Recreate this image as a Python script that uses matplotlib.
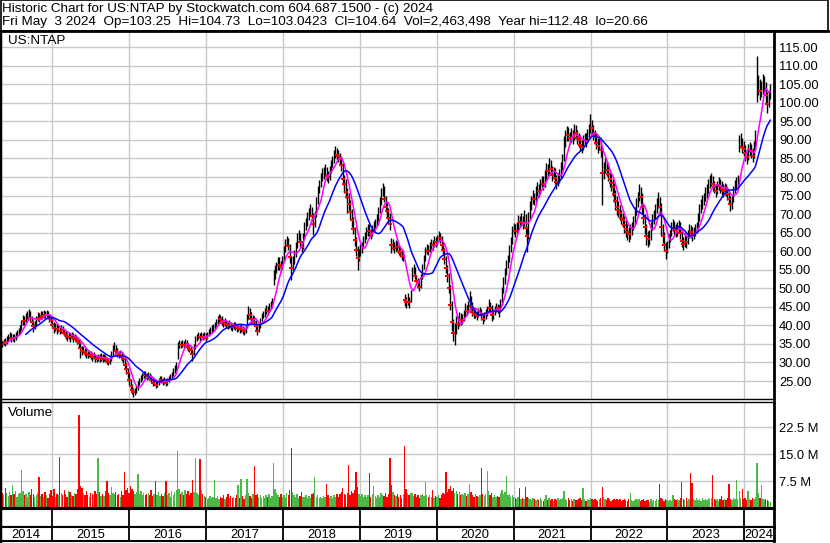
import numpy as np
import pandas as pd
import matplotlib
matplotlib.use("Agg")
import matplotlib.pyplot as plt
import matplotlib.dates as mdates
from matplotlib.lines import Line2D
from matplotlib.patches import Rectangle

W, H = 830, 543

# weekly bars, week ending Friday
week_end = pd.date_range("2014-04-25", periods=524, freq="W-FRI")

close = [
    34.6, 35.2, 34.9, 35.6, 35.4, 36.3, 36.8, 37.2, 36.5, 36.9,
    36.5, 37.3, 37.8, 38.4, 39.2, 40.6, 41.8, 41.2, 42.3, 42.9,
    43.4, 42.1, 41.0, 39.8, 40.6, 41.8, 42.6, 42.0, 43.1, 42.6,
    43.3, 42.8, 43.5, 42.7, 42.1, 41.5, 40.2, 39.2, 39.8, 38.9,
    39.4, 38.6, 39.3, 38.7, 38.0, 37.4, 36.8, 37.5, 36.9, 37.3,
    36.6, 37.0, 36.3, 35.8, 35.2, 33.8, 33.2, 33.6, 32.9, 32.4,
    32.1, 32.6, 31.9, 31.5, 32.0, 31.2, 30.9, 31.6, 31.2, 31.6,
    31.0, 31.5, 31.0, 30.5, 30.1, 30.8, 32.4, 33.8, 34.3, 33.2,
    32.6, 32.2, 32.4, 31.5, 30.9, 29.4, 28.3, 27.1, 25.2, 23.6,
    22.5, 22.0, 22.4, 23.0, 24.1, 25.0, 25.8, 26.2, 26.9, 26.6,
    26.1, 26.6, 26.0, 25.3, 24.5, 24.9, 24.0, 24.3, 24.9, 25.6,
    25.3, 24.8, 25.2, 24.5, 25.0, 25.6, 26.1, 26.6, 27.4, 28.5,
    29.0, 34.6, 35.1, 34.7, 35.2, 34.8, 35.3, 34.9, 34.2, 33.7,
    33.3, 32.2, 34.0, 36.3, 36.8, 37.3, 36.8, 37.5, 36.9, 37.2,
    36.7, 37.4, 38.0, 38.6, 39.0, 39.6, 40.1, 40.9, 41.4, 42.0,
    41.7, 41.2, 40.6, 41.0, 40.4, 40.0, 40.5, 39.9, 39.6, 40.1,
    39.7, 39.2, 39.6, 39.0, 39.4, 38.7, 38.4, 39.3, 42.0, 43.6,
    42.8, 41.6, 41.9, 41.0, 39.8, 38.6, 39.5, 41.2, 42.4, 43.1,
    43.6, 44.5, 44.0, 45.0, 45.6, 46.4, 53.6, 54.8, 55.6, 57.1,
    56.4, 55.7, 57.6, 60.4, 61.9, 63.0, 61.5, 58.4, 55.6, 57.2,
    59.1, 61.3, 63.7, 64.4, 62.5, 61.2, 63.8, 66.5, 67.6, 69.2,
    70.3, 71.5, 69.6, 67.4, 69.8, 73.4, 76.2, 77.9, 79.6, 80.8,
    81.4, 82.0, 80.4, 80.0, 81.6, 83.2, 84.4, 85.9, 86.8, 86.0,
    85.6, 84.8, 83.3, 79.6, 78.2, 76.0, 74.6, 72.8, 70.6, 68.5,
    66.0, 63.0, 60.4, 58.2, 59.3, 60.7, 61.0, 62.6, 63.8, 65.2,
    66.0, 65.4, 64.6, 65.8, 66.9, 67.3, 68.8, 70.5, 72.8, 75.6,
    76.9, 74.2, 72.0, 70.8, 69.0, 67.4, 61.6, 62.0, 60.8, 61.7,
    61.2, 60.1, 59.6, 58.8, 58.9, 46.9, 46.2, 47.4, 46.3, 48.5,
    54.2, 55.6, 53.4, 52.0, 51.5, 50.4, 52.6, 55.4, 57.8, 59.9,
    60.8, 60.1, 61.2, 62.0, 61.6, 62.9, 62.4, 63.3, 64.2, 63.6,
    61.8, 60.2, 58.0, 55.6, 53.4, 50.2, 45.5, 41.0, 38.0, 38.9,
    41.0, 40.4, 42.3, 41.4, 41.9, 43.0, 44.6, 44.0, 45.2, 47.5,
    45.2, 43.6, 43.0, 43.4, 42.6, 43.5, 43.9, 42.7, 41.8, 42.5,
    43.2, 44.0, 45.6, 44.8, 42.8, 43.3, 44.2, 45.0, 44.6, 44.2,
    46.1, 49.3, 51.8, 54.2, 56.4, 57.8, 60.4, 62.5, 65.3, 66.2,
    65.5, 66.6, 68.4, 67.8, 68.6, 67.5, 69.4, 66.2, 64.0, 69.4,
    72.0, 73.6, 74.8, 74.0, 76.2, 77.0, 76.3, 78.0, 78.9, 78.2,
    80.4, 82.0, 81.6, 83.4, 82.2, 80.5, 81.2, 79.8, 78.6, 79.7,
    80.6, 82.4, 84.5, 89.6, 90.8, 92.1, 91.3, 90.4, 91.5, 90.8,
    92.6, 91.8, 90.6, 89.9, 88.6, 88.2, 89.4, 90.3, 89.8, 91.2,
    92.4, 94.0, 93.2, 91.6, 90.8, 89.2, 88.3, 88.9, 87.2, 81.0,
    82.2, 83.3, 82.0, 80.8, 79.6, 78.3, 77.2, 75.4, 73.6, 72.0,
    71.0, 70.2, 69.0, 68.4, 67.0, 66.1, 65.2, 64.6, 65.5, 66.3,
    67.8, 70.2, 72.5, 74.3, 76.1, 74.6, 71.8, 69.0, 66.5, 64.0,
    63.2, 63.8, 66.2, 68.4, 69.3, 70.8, 72.4, 73.6, 72.0, 66.5,
    64.0, 61.8, 60.0, 61.4, 63.0, 64.4, 66.3, 67.2, 66.0, 65.6,
    66.4, 66.9, 65.0, 62.8, 62.0, 63.2, 62.5, 64.2, 66.0, 65.2,
    64.4, 65.0, 65.8, 66.6, 68.8, 71.0, 72.6, 73.5, 74.3, 75.6,
    76.6, 77.8, 78.9, 79.2, 78.0, 77.3, 76.2, 77.4, 78.4, 77.6,
    76.9, 76.2, 77.0, 76.6, 75.4, 74.2, 72.6, 73.5, 76.0, 77.8,
    78.4, 79.0, 89.0, 89.6, 88.2, 87.6, 86.4, 85.3, 86.8, 87.4,
    86.9, 85.6, 87.8, 90.8, 104.2, 104.8, 103.2, 103.9, 104.6, 105.2,
    102.0, 99.6, 101.6, 104.6,
]

high = [
    35.6, 36.1, 35.9, 36.4, 36.5, 37.2, 37.6, 38.1, 37.9, 37.7,
    37.6, 38.1, 38.7, 39.3, 40.1, 41.4, 42.9, 42.5, 43.3, 43.9,
    44.3, 43.9, 42.6, 41.5, 41.3, 42.6, 43.5, 43.3, 44.0, 43.8,
    44.1, 44.0, 44.2, 44.0, 43.1, 42.6, 41.8, 40.8, 40.7, 40.3,
    40.2, 39.9, 40.0, 39.8, 39.1, 38.4, 37.9, 38.3, 38.0, 38.1,
    38.0, 37.8, 37.5, 36.8, 36.3, 35.4, 34.4, 34.5, 34.0, 33.5,
    33.2, 33.4, 33.0, 32.5, 32.8, 32.3, 31.9, 32.4, 32.2, 32.5,
    32.2, 32.3, 32.1, 31.4, 31.0, 31.6, 33.2, 34.6, 35.4, 34.6,
    33.8, 33.2, 33.3, 32.7, 31.9, 31.2, 29.8, 28.6, 27.5, 25.5,
    24.2, 23.2, 23.2, 23.8, 24.9, 25.8, 26.6, 27.2, 27.7, 27.6,
    27.2, 27.4, 27.2, 26.6, 25.8, 25.6, 25.4, 25.0, 25.8, 26.4,
    26.4, 25.9, 26.0, 25.6, 25.8, 26.4, 26.9, 27.5, 28.4, 29.4,
    30.0, 35.6, 36.0, 35.8, 36.1, 35.9, 36.2, 36.0, 35.2, 34.8,
    34.5, 33.6, 34.9, 37.2, 37.7, 38.2, 37.9, 38.3, 38.0, 38.1,
    37.9, 38.3, 38.9, 39.5, 40.0, 40.5, 41.0, 41.8, 42.4, 43.0,
    42.9, 42.4, 41.8, 41.9, 41.5, 41.1, 41.4, 41.0, 40.6, 41.0,
    40.9, 40.3, 40.5, 40.2, 40.3, 39.8, 39.5, 40.2, 43.0, 45.2,
    44.6, 43.6, 42.9, 42.6, 41.4, 40.3, 40.4, 42.1, 43.3, 44.0,
    44.6, 45.5, 45.3, 46.0, 46.7, 47.5, 55.0, 56.2, 57.0, 58.5,
    58.4, 57.4, 58.8, 61.5, 63.2, 64.2, 63.6, 62.0, 58.8, 58.6,
    60.3, 62.6, 64.9, 65.7, 64.9, 62.8, 65.0, 67.8, 69.0, 70.5,
    71.6, 72.8, 72.0, 70.2, 70.9, 74.6, 77.6, 79.2, 81.0, 82.4,
    82.8, 83.4, 82.6, 81.6, 83.0, 84.6, 85.8, 87.4, 88.4, 87.9,
    87.2, 86.6, 85.6, 83.8, 80.6, 79.4, 77.0, 75.6, 73.9, 71.5,
    69.2, 66.6, 63.8, 61.5, 60.6, 62.0, 62.5, 64.0, 65.2, 66.5,
    67.4, 67.2, 66.1, 67.0, 68.2, 68.6, 70.0, 72.0, 74.6, 77.0,
    78.4, 77.6, 75.0, 73.0, 71.7, 70.2, 63.5, 63.4, 62.6, 62.9,
    62.8, 61.6, 61.0, 60.2, 60.0, 48.4, 47.6, 48.6, 47.7, 49.6,
    55.8, 56.6, 55.8, 53.6, 52.9, 52.1, 53.8, 56.6, 59.1, 61.2,
    62.0, 61.8, 62.4, 63.2, 63.0, 64.1, 63.9, 64.5, 65.4, 65.0,
    64.2, 62.6, 60.8, 58.6, 56.2, 54.2, 50.8, 46.5, 41.8, 40.6,
    42.6, 42.4, 43.6, 43.4, 43.2, 44.2, 46.0, 45.6, 46.6, 49.3,
    48.0, 46.2, 44.4, 44.5, 44.0, 44.7, 45.0, 44.4, 43.3, 43.6,
    44.4, 45.3, 47.0, 46.4, 45.4, 44.5, 45.2, 46.1, 45.8, 45.4,
    47.2, 50.4, 53.0, 55.6, 57.6, 59.0, 61.6, 63.9, 66.8, 67.6,
    67.2, 68.0, 69.8, 69.6, 70.2, 69.6, 71.2, 70.0, 66.4, 70.6,
    73.4, 75.0, 76.4, 75.8, 77.6, 78.6, 78.0, 79.5, 80.4, 80.2,
    82.0, 83.8, 83.4, 85.2, 84.6, 83.0, 82.8, 82.4, 80.6, 81.2,
    82.2, 84.0, 86.2, 91.0, 92.6, 93.8, 93.6, 92.2, 93.2, 92.6,
    94.4, 94.0, 92.8, 91.8, 91.4, 90.0, 91.2, 92.0, 91.8, 93.0,
    94.2, 97.0, 95.4, 94.0, 92.8, 92.0, 90.6, 90.8, 90.2, 88.0,
    84.0, 85.2, 84.4, 83.2, 82.0, 81.0, 79.4, 78.4, 76.6, 75.0,
    73.4, 72.4, 71.2, 70.4, 69.4, 68.4, 67.4, 66.6, 67.4, 68.0,
    69.4, 72.0, 74.4, 76.0, 78.2, 77.4, 75.8, 72.6, 70.0, 67.4,
    65.4, 65.6, 67.8, 70.0, 71.2, 72.6, 74.4, 76.0, 74.6, 73.0,
    67.4, 65.2, 62.6, 62.8, 64.6, 65.8, 67.8, 68.8, 68.2, 67.2,
    67.8, 68.4, 68.0, 65.8, 63.8, 64.8, 64.4, 65.6, 67.4, 67.0,
    66.4, 66.6, 67.2, 68.0, 70.4, 72.6, 74.2, 75.2, 75.8, 77.2,
    78.2, 79.4, 80.6, 81.0, 80.4, 79.0, 78.2, 78.8, 80.0, 79.6,
    79.0, 78.2, 78.4, 78.2, 77.4, 76.2, 74.8, 75.0, 77.6, 79.2,
    80.0, 80.6, 91.2, 91.8, 90.6, 89.8, 88.6, 87.4, 88.8, 89.4,
    89.0, 87.8, 89.6, 92.6, 112.5, 107.6, 106.4, 106.0, 107.8, 107.2,
    105.6, 102.8, 103.4, 105.2,
]

low = [
    33.3, 34.0, 34.1, 34.6, 34.5, 35.0, 35.8, 36.2, 35.6, 35.8,
    35.6, 36.1, 36.8, 37.3, 38.0, 38.8, 40.1, 40.2, 40.9, 41.8,
    42.1, 41.3, 40.0, 38.3, 39.1, 40.2, 41.3, 41.0, 41.6, 41.7,
    41.9, 41.9, 42.3, 41.8, 41.0, 40.6, 39.3, 38.0, 38.6, 37.8,
    38.2, 37.8, 38.0, 37.7, 37.1, 36.4, 35.7, 36.2, 35.6, 36.2,
    35.6, 36.0, 35.4, 34.9, 34.0, 31.3, 32.1, 32.5, 31.8, 31.3,
    31.2, 31.5, 30.8, 30.5, 30.9, 30.0, 30.0, 30.4, 30.2, 30.5,
    30.0, 30.3, 30.1, 29.6, 29.2, 29.6, 30.5, 32.0, 33.0, 32.2,
    31.6, 31.2, 31.4, 30.4, 29.8, 28.2, 27.0, 25.8, 24.0, 22.5,
    21.4, 20.7, 21.3, 21.9, 22.6, 23.8, 24.8, 25.2, 25.8, 25.6,
    25.2, 25.5, 25.2, 24.4, 23.7, 23.9, 23.1, 23.4, 23.8, 24.6,
    24.5, 23.9, 24.2, 23.6, 24.0, 24.6, 25.2, 25.6, 26.3, 27.2,
    27.9, 31.0, 34.0, 33.8, 34.2, 33.9, 34.3, 33.9, 33.2, 32.8,
    32.4, 30.4, 31.9, 33.6, 35.9, 36.4, 35.9, 36.5, 36.0, 36.2,
    35.8, 36.3, 37.1, 37.6, 38.0, 38.6, 39.0, 39.8, 40.4, 40.9,
    40.6, 40.2, 39.6, 39.9, 39.3, 38.9, 39.4, 38.8, 38.6, 39.0,
    38.7, 38.2, 38.4, 38.0, 38.3, 37.6, 37.3, 38.0, 39.2, 41.8,
    41.8, 40.5, 40.8, 39.9, 38.6, 37.5, 38.1, 39.2, 41.2, 42.0,
    42.2, 43.2, 42.8, 43.6, 44.5, 45.2, 50.8, 52.6, 54.2, 55.0,
    55.0, 54.4, 55.2, 57.2, 59.9, 61.4, 60.2, 56.8, 52.3, 54.8,
    56.6, 58.4, 60.8, 63.0, 61.2, 59.7, 60.6, 63.2, 65.8, 66.9,
    68.3, 69.8, 68.2, 64.5, 66.5, 69.2, 72.6, 75.6, 77.2, 78.9,
    79.6, 80.4, 79.0, 78.4, 79.2, 81.0, 82.6, 83.8, 85.2, 84.5,
    84.1, 83.2, 81.5, 77.8, 75.6, 74.4, 70.4, 71.0, 68.8, 66.6,
    64.6, 61.5, 58.7, 55.0, 57.4, 58.6, 59.6, 60.8, 62.2, 63.4,
    64.2, 64.0, 63.2, 64.0, 65.2, 65.8, 66.9, 68.2, 70.4, 72.5,
    75.0, 73.2, 70.6, 69.2, 67.4, 65.8, 59.6, 60.2, 59.4, 60.0,
    59.8, 58.9, 58.4, 57.6, 57.4, 45.2, 44.6, 45.5, 44.8, 46.2,
    52.0, 53.8, 52.4, 50.9, 50.2, 49.4, 50.2, 52.4, 55.1, 57.4,
    59.2, 58.9, 59.8, 60.6, 60.4, 61.2, 61.2, 61.8, 62.8, 62.2,
    60.6, 59.0, 56.6, 54.2, 51.8, 48.8, 44.2, 38.5, 35.8, 34.7,
    37.8, 38.9, 39.9, 40.2, 40.5, 41.2, 42.4, 42.9, 43.4, 44.8,
    44.2, 42.6, 41.9, 42.0, 41.5, 42.2, 42.8, 41.5, 40.4, 41.1,
    41.8, 42.6, 43.6, 43.4, 41.2, 41.8, 42.8, 43.6, 43.4, 42.2,
    43.6, 45.6, 48.8, 51.2, 53.5, 55.6, 57.2, 59.8, 62.0, 64.6,
    63.8, 64.8, 65.8, 66.4, 66.8, 66.0, 66.8, 64.6, 59.8, 63.2,
    68.8, 71.0, 72.8, 72.5, 73.2, 75.0, 74.6, 75.4, 77.2, 76.6,
    77.2, 79.6, 80.0, 80.8, 80.6, 79.0, 79.4, 78.2, 76.8, 77.6,
    78.4, 79.8, 81.8, 84.2, 88.2, 89.6, 89.6, 88.8, 89.4, 89.0,
    90.0, 90.2, 89.0, 88.2, 87.0, 86.4, 87.4, 88.4, 88.0, 89.2,
    90.4, 91.8, 91.6, 90.0, 89.0, 87.6, 86.6, 87.2, 85.4, 72.5,
    79.6, 81.0, 80.4, 78.8, 77.4, 76.2, 75.0, 73.2, 71.2, 69.8,
    69.2, 68.4, 67.2, 66.4, 65.0, 63.8, 63.0, 62.4, 63.2, 64.4,
    65.6, 67.2, 69.8, 72.0, 73.6, 72.6, 70.0, 67.2, 64.6, 61.6,
    61.2, 61.6, 63.0, 65.6, 67.4, 68.6, 70.4, 71.6, 70.0, 64.2,
    62.2, 60.0, 58.0, 59.4, 60.8, 62.6, 64.0, 65.4, 64.4, 63.8,
    64.2, 65.2, 63.4, 61.2, 60.4, 61.0, 60.8, 62.0, 63.6, 63.6,
    62.8, 63.2, 64.0, 65.0, 66.0, 68.2, 70.4, 71.4, 72.4, 73.6,
    74.4, 75.8, 77.0, 77.6, 76.2, 75.6, 74.6, 75.4, 76.4, 75.8,
    75.2, 74.6, 75.2, 75.0, 73.8, 72.6, 70.8, 71.4, 73.2, 75.6,
    76.6, 77.4, 86.8, 87.8, 86.6, 85.8, 84.2, 83.4, 84.6, 85.6,
    85.2, 84.0, 85.2, 87.4, 100.2, 102.2, 100.8, 101.6, 102.4, 103.0,
    99.8, 97.2, 98.8, 101.0,
]

# daily-scale volume, millions
volume = [
    7.0, 10.1, 4.2, 3.5, 5.6, 4.1, 3.3, 4.4, 3.6, 6.5,
    3.8, 4.6, 3.1, 3.9, 4.3, 10.7, 4.8, 3.5, 4.0, 3.2,
    4.5, 3.6, 5.2, 3.9, 3.1, 3.7, 4.2, 8.7, 3.4, 3.9,
    3.0, 4.4, 3.6, 2.9, 3.8, 4.9, 3.4, 5.3, 3.2, 4.0,
    3.7, 14.3, 4.1, 3.5, 5.0, 3.8, 3.2, 4.6, 4.4, 3.5,
    3.3, 4.2, 3.9, 5.4, 25.9, 6.2, 5.6, 4.1, 3.7, 4.8,
    3.6, 3.2, 4.3, 3.9, 3.5, 4.7, 3.8, 14.0, 4.5, 3.4,
    3.9, 3.3, 4.6, 7.5, 4.1, 3.6, 5.8, 4.2, 3.9, 4.4,
    3.5, 4.0, 3.2, 4.8, 3.6, 10.1, 4.9, 5.5, 4.3, 6.0,
    5.2, 4.6, 3.8, 4.4, 9.4, 3.9, 4.7, 3.5, 4.2, 3.6,
    3.8, 4.3, 3.5, 4.9, 3.4, 4.0, 7.5, 3.7, 4.5, 3.3,
    3.9, 3.4, 4.2, 7.5, 3.6, 4.1, 3.2, 4.8, 3.5, 4.4,
    5.1, 15.9, 5.2, 3.9, 4.4, 3.6, 5.0, 3.8, 4.6, 3.7,
    4.2, 7.8, 4.5, 14.0, 4.3, 3.6, 13.6, 4.9, 3.8, 3.4,
    3.0, 2.6, 2.8, 3.4, 2.7, 3.1, 7.7, 2.9, 3.3, 2.5,
    3.2, 2.8, 3.6, 2.6, 3.0, 4.0, 2.7, 3.4, 2.9, 3.1,
    2.8, 3.5, 6.5, 2.9, 8.2, 3.3, 2.6, 3.7, 8.2, 4.2,
    3.4, 2.9, 3.8, 11.6, 3.5, 4.0, 3.1, 3.6, 2.8, 3.3,
    2.9, 3.5, 3.0, 3.8, 2.7, 3.4, 12.4, 5.2, 4.1, 3.6,
    3.2, 3.9, 3.0, 3.5, 2.8, 4.2, 3.7, 5.1, 16.7, 4.4,
    3.6, 3.1, 3.9, 2.9, 3.4, 4.5, 3.2, 3.0, 3.6, 2.8,
    3.3, 2.9, 3.8, 4.2, 8.5, 3.1, 3.5, 2.8, 3.2, 2.7,
    3.4, 3.0, 6.7, 3.6, 2.9, 3.3, 2.8, 3.5, 3.1, 4.0,
    3.2, 3.8, 4.4, 5.6, 3.9, 3.5, 4.1, 12.0, 3.7, 4.6,
    4.2, 5.0, 10.0, 5.8, 3.9, 3.4, 4.0, 3.1, 3.6, 3.0,
    3.5, 9.7, 3.2, 3.8, 6.1, 3.3, 2.9, 3.6, 3.2, 4.1,
    3.7, 3.4, 4.2, 3.1, 3.9, 13.8, 6.3, 4.4, 3.6, 3.3,
    3.8, 3.2, 3.5, 2.9, 4.0, 17.2, 5.4, 4.1, 3.6, 4.3,
    4.3, 3.4, 3.9, 3.2, 3.6, 2.9, 3.7, 4.0, 3.3, 7.3,
    3.5, 3.0, 3.6, 3.2, 5.1, 2.8, 3.4, 3.1, 3.7, 2.9,
    3.6, 4.1, 3.8, 10.0, 4.5, 5.2, 6.0, 4.8, 5.5, 4.2,
    4.6, 3.9, 4.4, 3.5, 4.0, 3.6, 4.2, 3.3, 3.8, 6.8,
    4.5, 3.7, 3.2, 3.9, 3.4, 3.0, 3.6, 11.1, 3.8, 3.3,
    3.9, 10.4, 4.6, 3.5, 4.1, 3.2, 3.7, 3.0, 3.4, 3.1,
    4.3, 5.0, 3.8, 4.4, 9.0, 3.6, 3.9, 3.2, 3.5, 3.0,
    2.8, 2.5, 3.1, 5.6, 2.6, 2.9, 2.4, 5.9, 3.0, 2.7,
    2.5, 2.2, 2.8, 2.4, 2.1, 2.6, 2.3, 2.9, 2.2, 2.0,
    2.4, 3.6, 2.1, 2.7, 2.3, 2.6, 2.0, 2.5, 2.2, 2.8,
    2.3, 2.6, 2.9, 4.6, 2.5, 2.2, 2.7, 2.1, 2.4, 2.0,
    2.6, 2.3, 2.1, 2.5, 2.8, 2.2, 5.6, 2.4, 2.0, 2.6,
    2.2, 2.8, 2.4, 2.1, 2.6, 2.3, 2.0, 2.5, 2.9, 5.9,
    3.1, 2.4, 2.2, 2.7, 2.5, 2.0, 2.3, 2.6, 2.1, 2.4,
    2.2, 2.5, 2.0, 2.3, 2.6, 2.1, 1.9, 2.4, 4.1, 2.2,
    2.0, 2.3, 2.5, 2.1, 2.4, 1.9, 2.2, 2.6, 2.0, 2.3,
    2.1, 1.8, 2.4, 2.0, 2.2, 1.9, 2.5, 2.1, 6.8, 2.9,
    2.4, 2.0, 2.6, 2.2, 1.9, 2.3, 2.0, 3.6, 2.4, 2.1,
    2.5, 2.2, 2.8, 7.2, 2.6, 2.3, 2.9, 2.0, 2.4, 9.8,
    7.0, 2.5, 2.1, 2.7, 2.3, 2.6, 2.0, 2.8, 2.2, 2.5,
    2.3, 2.7, 2.4, 2.9, 9.3, 2.6, 2.2, 2.5, 2.0, 2.4,
    3.4, 2.1, 2.6, 2.3, 2.8, 6.7, 2.4, 2.2, 2.9, 2.5,
    7.8, 2.6, 4.6, 2.8, 5.3, 2.4, 2.9, 2.2, 4.8, 2.5,
    2.3, 2.7, 2.4, 3.2, 12.4, 4.1, 2.8, 6.5, 2.6, 2.2,
    2.5, 2.3, 1.9, 1.6,
]

year_labels = [str(y) for y in range(2014, 2025)]
price_ticks = list(range(25, 116, 5))
vol_ticks = [7.5, 15.0, 22.5]

header_1 = "Historic Chart for US:NTAP by Stockwatch.com 604.687.1500 - (c) 2024"
header_2 = ("Fri May  3 2024  Op=103.25  Hi=104.73  Lo=103.0423  Cl=104.64  "
            "Vol=2,463,498  Year hi=112.48  lo=20.66")

plt.rcParams["font.family"] = ["Liberation Sans", "DejaVu Sans"]
FS = 9.3
HEAD_FS = 9.7
GRID = "#c8c8c8"


def px_rect(x0, y0, x1, y1):
    return [x0 / W, 1 - y1 / H, (x1 - x0) / W, (y1 - y0) / H]


def fx(x):
    return x / W


def fy(y):
    return 1 - y / H


fig = plt.figure(figsize=(W / 100, H / 100), dpi=100)
fig.patch.set_facecolor("white")

dates = mdates.date2num(week_end.to_pydatetime())
c = np.array(close)
hi = np.array(high)
lo = np.array(low)
vol = np.array(volume)

xmin = mdates.date2num(pd.Timestamp("2014-04-28").to_pydatetime())
xmax = mdates.date2num(pd.Timestamp("2024-05-21").to_pydatetime())
year_starts = [mdates.date2num(pd.Timestamp(f"{y}-01-01").to_pydatetime())
               for y in range(2015, 2025)]

# moving averages (about 35 and 100 trading days)
ma_fast = pd.Series(c).rolling(7, min_periods=5).mean()
ma_slow = pd.Series(c).rolling(20, min_periods=19).mean()

chg = np.diff(c, prepend=c[0])
down = chg < 0


def frame(ax, top=1.0, bottom=1.0):
    for side in ["left", "right", "top", "bottom"]:
        ax.spines[side].set_color("black")
    ax.spines["left"].set_linewidth(2.5)
    ax.spines["right"].set_linewidth(2.0)
    ax.spines["top"].set_linewidth(top)
    ax.spines["bottom"].set_linewidth(bottom)


# price panel
ax = fig.add_axes(px_rect(0, 32, 774, 399))
ax.set_xlim(xmin, xmax)
ax.set_ylim(20.15, 119.1)
ax.set_axisbelow(True)
ax.set_xticks(year_starts)
ax.set_yticks(price_ticks)
ax.grid(True, color=GRID, lw=1.0)
ax.yaxis.tick_right()
ax.set_yticklabels([f"{t:.2f}" for t in price_ticks])
ax.tick_params(axis="y", length=0, pad=3.6, labelsize=FS)
ax.tick_params(axis="x", length=0, labelbottom=False)
frame(ax, top=0, bottom=1.0)

ax.vlines(dates, lo, hi, color="black", lw=1.0)
ax.plot(dates[down], c[down], linestyle="none", marker="_", ms=2.2,
        mew=1.4, color="#ff0000")
ax.plot(dates, ma_fast, color="#ff00ff", lw=1.1)
ax.plot(dates, ma_slow, color="#0000ff", lw=1.1)

# volume panel
av = fig.add_axes(px_rect(0, 402, 774, 508))
av.set_xlim(xmin, xmax)
av.set_ylim(0, 29.5)
av.set_axisbelow(True)
av.set_xticks(year_starts)
av.set_yticks(vol_ticks)
av.grid(True, color=GRID, lw=1.0)
av.yaxis.tick_right()
av.set_yticklabels([f"{t:.1f} M" for t in vol_ticks])
av.tick_params(axis="y", length=0, pad=3.6, labelsize=FS)
av.tick_params(axis="x", length=0, labelbottom=False)
frame(av, top=1.0, bottom=1.5)
vcol = np.where(chg > 0, "#4cb848", np.where(chg < 0, "#ff0000", "#a0a0a0"))
av.bar(dates, vol, width=6.5, color=vcol, linewidth=0)

# date rows
for (y0, y1) in [(509, 527), (527, 541)]:
    ad = fig.add_axes(px_rect(0, y0, 774, y1))
    ad.set_xlim(xmin, xmax)
    ad.set_ylim(0, 1)
    ad.set_xticks([])
    ad.set_yticks([])
    frame(ad, top=1.5, bottom=1.5)
    for ys in year_starts:
        ad.axvline(ys, color="black", lw=1.3)
    if y0 == 527:
        edges = [xmin] + year_starts + [xmax]
        for lab, a, b in zip(year_labels, edges[:-1], edges[1:]):
            ad.text((a + b) / 2, 0.45, lab, ha="center", va="center",
                    fontsize=FS)

# header
fig.add_artist(Rectangle((fx(0.5), fy(31)), fx(827.5), 31 / H,
                         transform=fig.transFigure, fill=False,
                         ec="black", lw=1.2))
fig.add_artist(Line2D([0, fx(828)], [fy(31), fy(31)],
                      transform=fig.transFigure, color="black", lw=2.0))
fig.text(fx(2), fy(8.8), header_1, ha="left", va="center", fontsize=HEAD_FS)
fig.text(fx(2), fy(22.0), header_2, ha="left", va="center", fontsize=HEAD_FS)

fig.text(fx(8), fy(41), "US:NTAP", ha="left", va="center", fontsize=HEAD_FS)
fig.text(fx(8), fy(413), "Volume", ha="left", va="center", fontsize=HEAD_FS)

fig.savefig("out.png", dpi=100, facecolor="white")
